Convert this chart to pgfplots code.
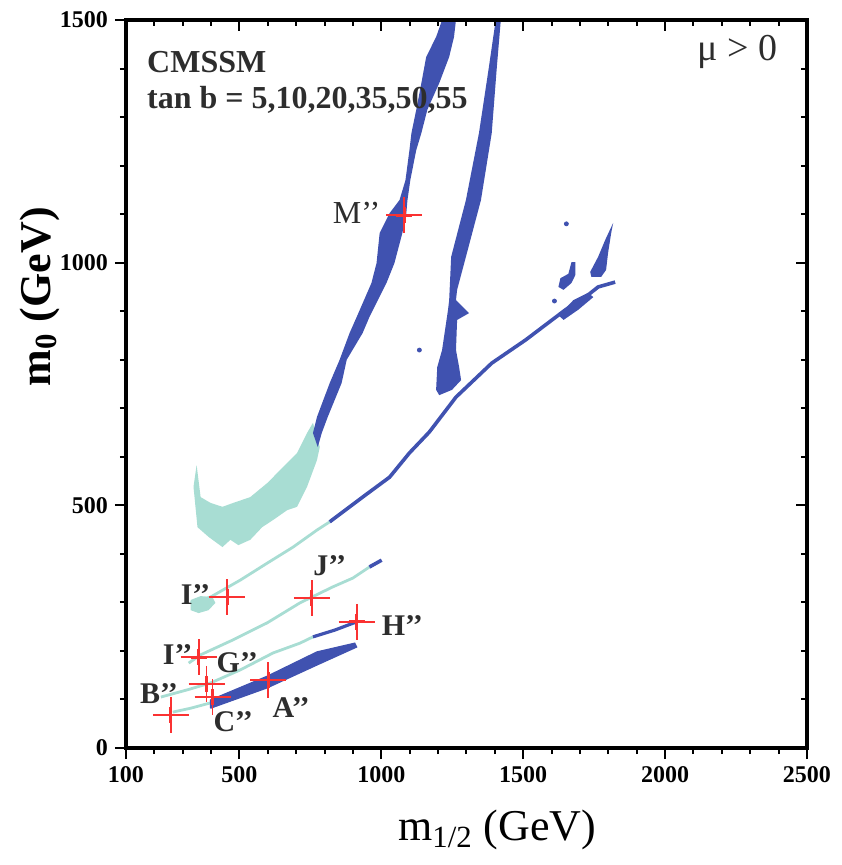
\documentclass[border=0pt]{standalone}
\usepackage{fontspec}
\setmainfont{Liberation Serif}
\usepackage{pgfplots}
\pgfplotsset{compat=1.18}
\definecolor{dblue}{RGB}{64,82,176}
\definecolor{teal1}{RGB}{168,221,211}
\definecolor{redx}{RGB}{250,50,50}
\definecolor{txt}{RGB}{45,45,45}
\begin{document}
\begin{tikzpicture}
\pgfplotsset{
  base/.style={
    width=340.5pt, height=364pt, scale only axis,
    xmin=100, xmax=2500, ymin=0, ymax=1500,
    xtick={100,500,1000,1500,2000,2500},
    ytick={0,500,1000,1500},
    minor xtick={100,200,...,2500},
    minor ytick={0,100,...,1500},
    major tick length=5.5pt, minor tick length=3pt,
    every tick/.style={black, line width=1pt},
    axis line style={line width=1.6pt},
    /pgf/number format/assume math mode=true,
    /pgf/number format/1000 sep={},
    ticklabel style={font=\fontsize{12}{14}\selectfont\bfseries},
  }
}
\begin{axis}[base, tick align=outside, xtick pos=bottom, ytick pos=left, clip mode=individual]
% teal bowl
\addplot[fill=teal1, draw=none] coordinates {
(349,583) (363,517) (398,505) (440,497) (478,505) (538,517) (598,546) (654,579) (703,608) (738,649) (759,670) (783,620) (773,593) (738,538) (703,497) (668,490) (619,470) (580,455) (538,429) (496,418) (468,429) (440,414) (391,435) (352,455) (338,538) (349,583)};
% main blue band
\addplot[fill=dblue, draw=none] coordinates {
(759,649) (773,682) (818,752) (853,800) (888,855) (913,888) (965,958) (983,999) (994,1061) (1029,1102) (1064,1129) (1085,1170) (1099,1232) (1106,1267) (1123,1315) (1141,1370) (1158,1424) (1193,1465) (1214,1500)
(1263,1500) (1256,1465) (1239,1424) (1204,1370) (1162,1315) (1141,1267) (1123,1232) (1102,1170) (1092,1129) (1088,1102) (1074,1061) (1046,999) (1018,958) (958,888) (934,855) (878,800) (860,752) (811,682) (790,649) (776,620) (759,649)};
% right blue band
\addplot[fill=dblue, draw=none] coordinates {
(1193,738) (1197,785) (1214,820) (1235,903) (1239,923) (1246,1012) (1298,1129) (1344,1267) (1379,1403) (1403,1500)
(1421,1500) (1407,1403) (1389,1267) (1351,1129) (1298,1012) (1267,944) (1263,923) (1309,896) (1267,882) (1263,820) (1274,785) (1281,758) (1249,738) (1204,727) (1193,738)};
% blobs
\addplot[fill=dblue, draw=none] coordinates {
(1670,1001) (1684,1001) (1684,975) (1670,958) (1642,944) (1624,950) (1631,968) (1659,977) (1670,1001)};
\addplot[fill=dblue, draw=none] coordinates {
(1817,1082) (1789,1047) (1764,1012) (1736,981) (1740,971) (1775,971) (1792,985) (1799,1020) (1810,1061) (1817,1082)};
\addplot[fill=dblue, draw=none] coordinates {
(1624,892) (1677,923) (1729,938) (1747,929) (1694,903) (1642,882) (1624,892)};
\addplot[only marks, mark=*, mark size=1pt, dblue] coordinates {(1652,1080) (1610,921) (1134,820)};
% upper line
\addplot[fill=teal1, draw=none] coordinates {
(328,305) (363,313) (405,311) (415,299) (391,284) (356,278) (328,284) (328,305)};
\addplot[teal1, line width=1.4pt] coordinates {
(328,299) (398,311) (503,346) (598,381) (689,414) (773,449) (818,466)};
\addplot[dblue, line width=1.8pt] coordinates {
(818,466) (934,517) (1029,558) (1099,608) (1169,651) (1263,723) (1389,793) (1509,841) (1649,903) (1719,929) (1764,950) (1824,960)};
% J'' line
\addplot[teal1, line width=1.4pt] coordinates {
(321,175) (363,192) (478,223) (598,258) (713,299) (829,332) (899,350) (958,373)};
\addplot[dblue, line width=1.8pt] coordinates {(958,373) (1001,387)};
% B''-H'' line
\addplot[teal1, line width=1.4pt] coordinates {
(223,105) (317,120) (398,134) (503,161) (619,196) (713,216) (759,229)};
\addplot[dblue, line width=1.6pt] coordinates {(759,229) (836,243) (913,260)};
% lowest line
\addplot[teal1, line width=1.4pt] coordinates {(265,74) (328,82) (398,93)};
\addplot[fill=dblue, draw=dblue, line width=0.6pt] coordinates {
(398,82) (598,124) (773,171) (913,208) (906,216) (773,198) (598,148) (398,99) (398,82)};
% markers
\addplot[only marks, mark=+, mark size=9pt, redx, mark options={line width=0.9pt}] coordinates {
(1081,1098) (457,311) (755,309) (913,260) (356,187) (384,132) (405,105) (601,140) (258,68)};
\addplot[only marks, mark=+, mark size=4pt, redx, mark options={line width=1.4pt}] coordinates {
(1081,1098) (457,311) (755,309) (913,260) (356,187) (384,132) (405,105) (601,140) (258,68)};
% labels
\begin{scope}[every node/.style={text=txt, font=\fontsize{15}{17}\selectfont\bfseries}]
\node[font=\fontsize{16}{18}\selectfont] at (axis cs:913,1102) {M’’};
\node at (axis cs:345,317) {I’’};
\node at (axis cs:818,375) {J’’};
\node at (axis cs:1074,253) {H’’};
\node at (axis cs:282,192) {I’’};
\node at (axis cs:492,175) {G’’};
\node at (axis cs:216,113) {B’’};
\node at (axis cs:478,54) {C’’};
\node at (axis cs:682,84) {A’’};
\end{scope}
\node[anchor=west, text=txt, font=\fontsize{16}{18}\selectfont\bfseries] at (axis cs:150,1413) {CMSSM};
\node[anchor=west, text=txt, font=\fontsize{16}{18}\selectfont\bfseries] at (axis cs:150,1335) {tan b = 5,10,20,35,50,55};
\node[text=txt, font=\fontsize{19}{21}\selectfont] at (axis cs:2255,1434) {μ > 0};
\node[rotate=90, font=\fontsize{22}{24}\selectfont\bfseries] at (rel axis cs:-0.126,0.62) {m\textsubscript{0} (GeV)};
\node[font=\fontsize{22}{24}\selectfont] at (rel axis cs:0.545,-0.113) {m\textsubscript{1/2} (GeV)};
\coordinate (bbl) at (rel axis cs:-0.185,-0.1607);
\coordinate (btr) at (rel axis cs:1.05,1.0275);
\end{axis}
\begin{axis}[base, tick align=inside, xtick pos=top, ytick pos=right, xticklabels={}, yticklabels={}]
\end{axis}
\pgfresetboundingbox
\path (bbl) rectangle (btr);
\end{tikzpicture}
\end{document}
